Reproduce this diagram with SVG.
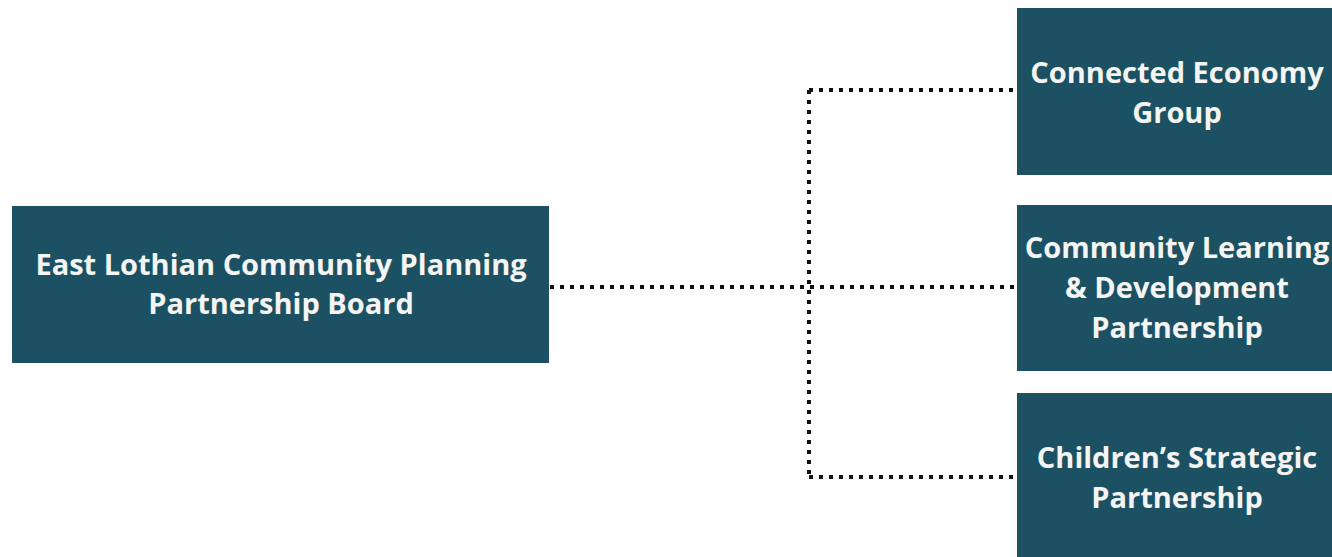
<svg xmlns="http://www.w3.org/2000/svg" width="1332" height="557" viewBox="0 0 1332 557">
<style>
.box{fill:#1c5163;}
.lbl{fill:#f4f4f2;font-family:"Open Sans","Noto Sans",sans-serif;font-weight:700;font-size:29px;text-anchor:middle;}
.con{fill:none;stroke:#111;stroke-width:4;stroke-dasharray:4 6;}
</style>
<rect width="1332" height="557" fill="#ffffff"/>
<g id="connectors">
<path class="con" d="M550 287 H1014"/>
<path class="con" d="M809 90 V477"/>
<path class="con" d="M809 90 H1014"/>
<path class="con" d="M809 477 H1014"/>
</g>
<g id="board">
<rect class="box" x="12" y="206" width="537" height="157"/>
<text class="lbl" x="281" y="275">East Lothian Community Planning</text>
<text class="lbl" x="281" y="314">Partnership Board</text>
</g>
<g id="economy">
<rect class="box" x="1017" y="8" width="315" height="167"/>
<text class="lbl" x="1177" y="83">Connected Economy</text>
<text class="lbl" x="1177" y="123">Group</text>
</g>
<g id="cld">
<rect class="box" x="1017" y="205" width="315" height="166"/>
<text class="lbl" x="1177" y="258">Community Learning</text>
<text class="lbl" x="1177" y="298">&amp; Development</text>
<text class="lbl" x="1177" y="338">Partnership</text>
</g>
<g id="children">
<rect class="box" x="1017" y="393" width="315" height="164"/>
<text class="lbl" x="1177" y="468">Children’s Strategic</text>
<text class="lbl" x="1177" y="508">Partnership</text>
</g>
</svg>
